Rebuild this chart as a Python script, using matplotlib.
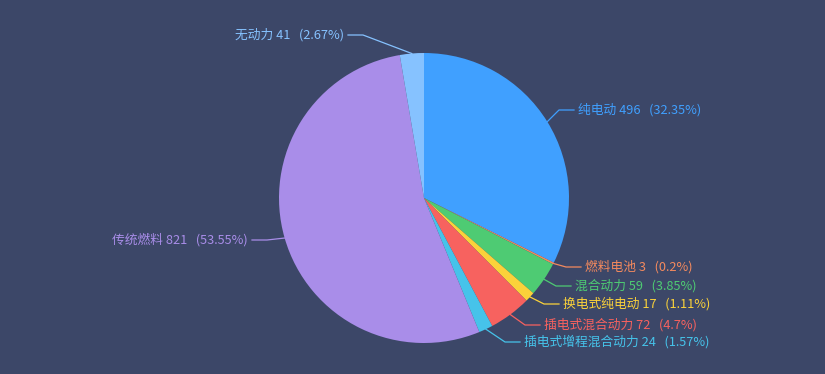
import matplotlib
matplotlib.use("Agg")
import matplotlib.pyplot as plt
import numpy as np

plt.rcParams['font.family'] = ['Noto Sans CJK SC', 'DejaVu Sans']

categories = ["纯电动", "燃料电池", "混合动力", "换电式纯电动", "插电式混合动力",
              "插电式增程混合动力", "传统燃料", "无动力"]
values = [496, 3, 59, 17, 72, 24, 821, 41]
pct_labels = ["32.35", "0.2", "3.85", "1.11", "4.7", "1.57", "53.55", "2.67"]
colors = ["#40a0ff", "#f48a5e", "#4ecb73", "#fbd23a", "#f7625f", "#46c3ea", "#a98de9", "#86c2ff"]

# label text anchor positions in pixels (x, y from top), side: +1 right, -1 left
label_px = [(578, 110, 1), (585, 267, 1), (575, 286, 1), (563, 304, 1),
            (544, 325, 1), (524, 342, 1), (248, 240, -1), (344, 35, -1)]

BG = "#3c4768"
W, H = 825, 374
fig = plt.figure(figsize=(W / 100, H / 100), dpi=100, facecolor=BG)
cx, cy, R = 424, 198, 145
ax = fig.add_axes([(cx - R) / W, (H - cy - R) / H, 2 * R / W, 2 * R / H])
ax.set_facecolor(BG)

wedges, _ = ax.pie(values, colors=colors, startangle=90, counterclock=False,
                   radius=1, wedgeprops=dict(linewidth=0))
ax.set_xlim(-1, 1)
ax.set_ylim(-1, 1)
ax.axis('off')

def px2d(px, py):
    return (px - cx) / R, (cy - py) / R

for w, name, v, pct, c, (tx, ty, side) in zip(wedges, categories, values, pct_labels, colors, label_px):
    mid = np.deg2rad((w.theta1 + w.theta2) / 2)
    ex, ey = np.cos(mid), np.sin(mid)
    gap, L2 = 4, 15
    endx, endy = px2d(tx - side * gap, ty)
    elbx, elby = px2d(tx - side * (gap + L2), ty)
    ax.plot([ex, elbx, endx], [ey, elby, endy], color=c, lw=0.9, clip_on=False, zorder=1)
    ax.text(endx + side * gap / R, endy, f"{name} {v}   ({pct}%)", color=c,
            fontsize=9.2, ha='left' if side > 0 else 'right', va='center', clip_on=False)

fig.savefig("out.png", dpi=100, facecolor=BG)
